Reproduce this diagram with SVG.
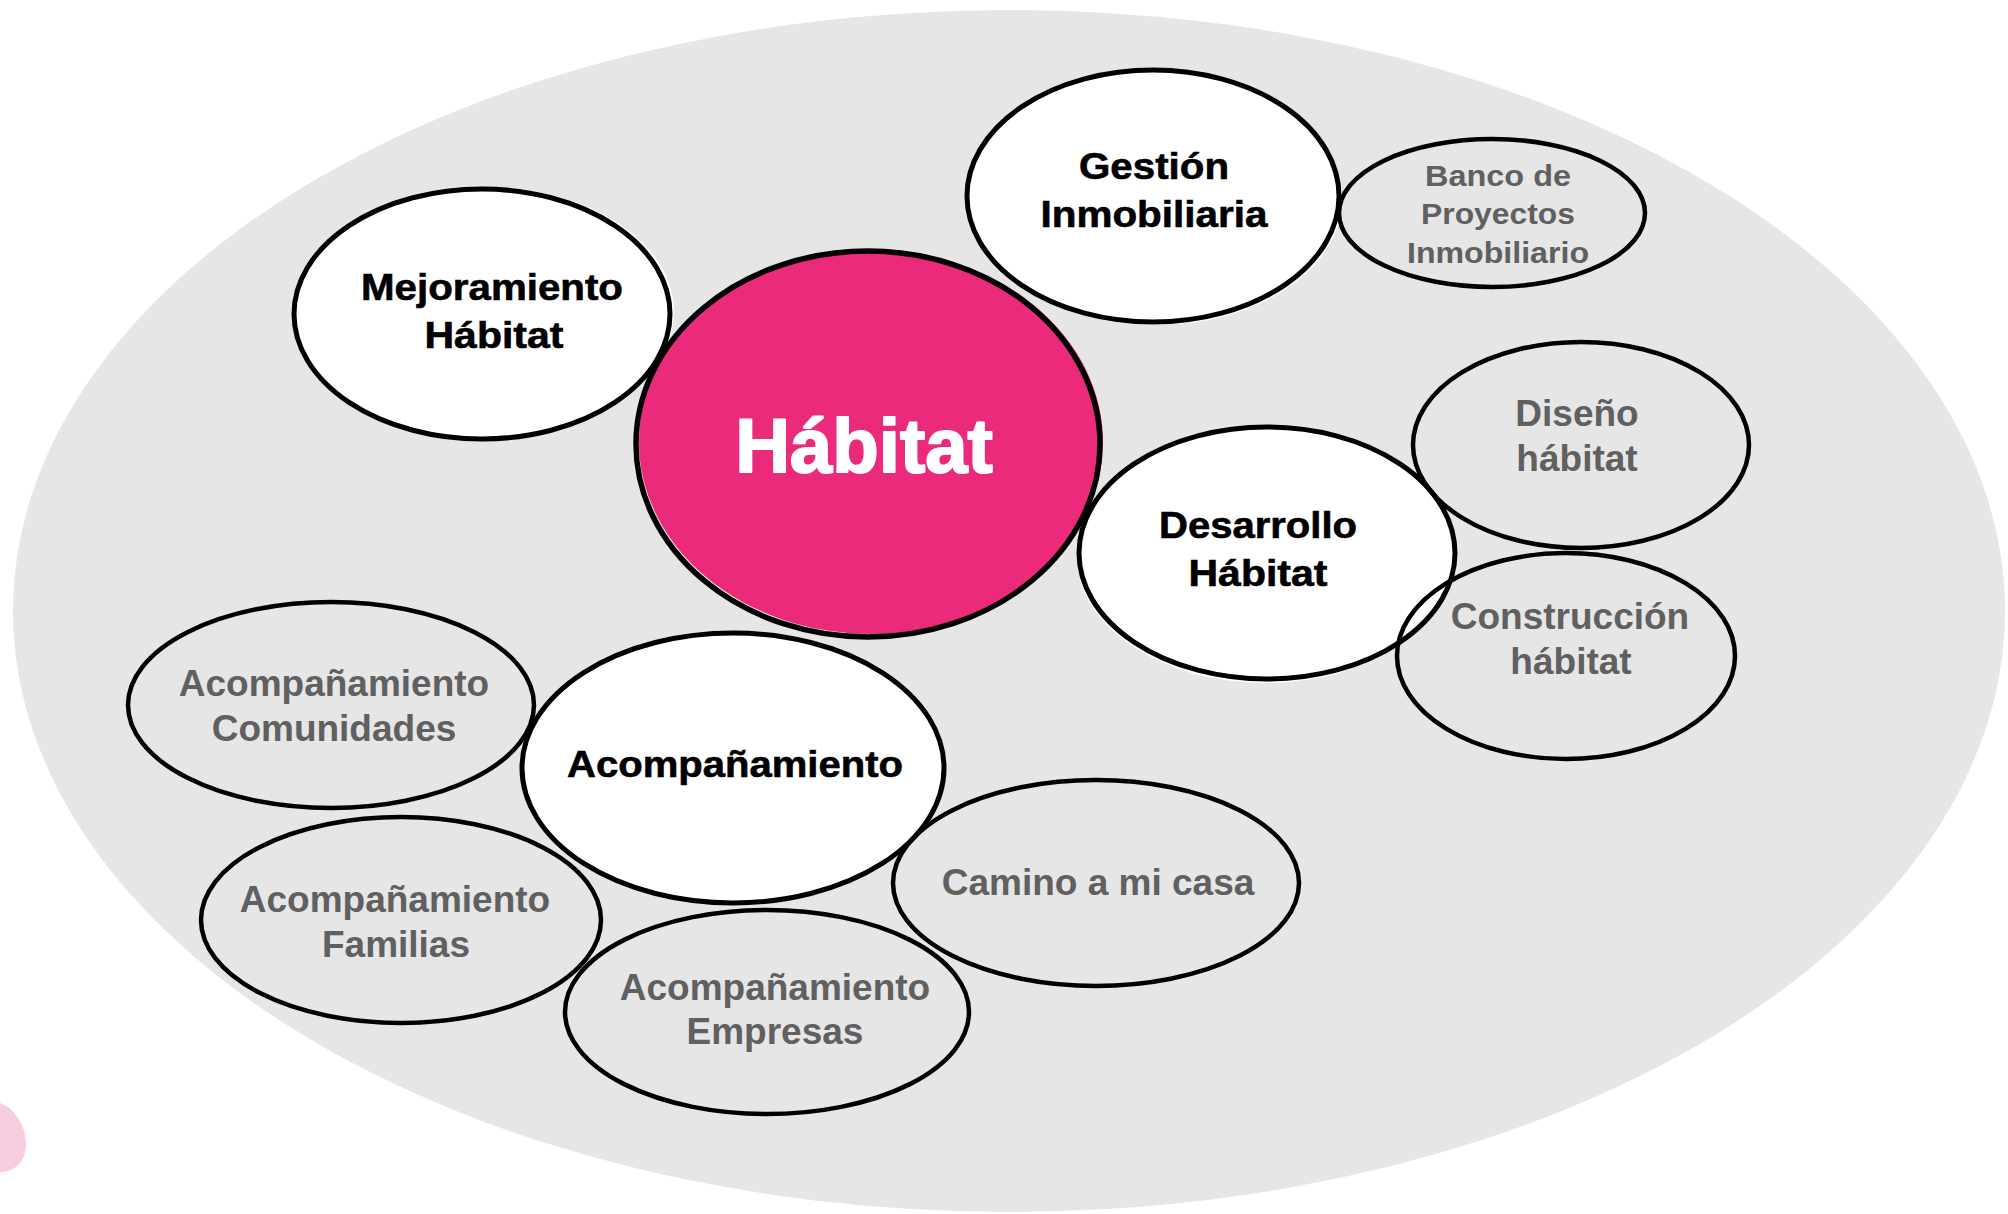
<svg xmlns="http://www.w3.org/2000/svg" width="2008" height="1214" viewBox="0 0 2008 1214">
<style>
.bg{fill:#e6e6e6}
.white{fill:#ffffff;stroke:#000;stroke-width:5}
.halo{fill:#ffffff}
.sub{fill:none;stroke:#000;stroke-width:4.5}
.main{fill:#ffffff;stroke:#ffffff;stroke-width:2;stroke-linejoin:round;font-family:"Liberation Sans",Arial,sans-serif;font-weight:bold;font-size:76px;text-anchor:middle}
.lbl{fill:#000;stroke:#000;stroke-width:0.6;font-family:"Liberation Sans",Arial,sans-serif;font-weight:bold;font-size:37px;text-anchor:middle}
.glbl{fill:#606060;font-family:"Liberation Sans",Arial,sans-serif;font-weight:bold;font-size:37px;text-anchor:middle}
.small{font-size:30px}
</style>
<rect width="2008" height="1214" fill="#ffffff"/>
<ellipse class="bg" cx="1009" cy="611" rx="996" ry="601"/>
<path d="M0,1103 C14,1108 26,1125 26,1145 C26,1162 14,1172 0,1172 Z" fill="#f8cde0"/>
<g id="connectors"></g>
<g id="mejoramiento">
<ellipse class="halo" cx="486" cy="312" rx="188" ry="125"/>
<ellipse class="white" cx="482" cy="314" rx="188" ry="125"/>
<text class="lbl" x="492" y="300" textLength="262" lengthAdjust="spacingAndGlyphs">Mejoramiento</text>
<text class="lbl" x="494" y="348" textLength="139" lengthAdjust="spacingAndGlyphs">Hábitat</text>
</g>
<g id="gestion">
<ellipse class="halo" cx="1156" cy="199" rx="186" ry="126"/>
<ellipse class="white" cx="1153" cy="196" rx="186" ry="126"/>
<text class="lbl" x="1154" y="179" textLength="150" lengthAdjust="spacingAndGlyphs">Gestión</text>
<text class="lbl" x="1154" y="227" textLength="227" lengthAdjust="spacingAndGlyphs">Inmobiliaria</text>
</g>
<g id="desarrollo">
<ellipse class="halo" cx="1265" cy="557" rx="188" ry="126"/>
<ellipse class="white" cx="1267" cy="553" rx="188" ry="126"/>
<text class="lbl" x="1258" y="538" textLength="198" lengthAdjust="spacingAndGlyphs">Desarrollo</text>
<text class="lbl" x="1258" y="586" textLength="139" lengthAdjust="spacingAndGlyphs">Hábitat</text>
</g>
<g id="acompanamiento">
<ellipse class="halo" cx="735" cy="766" rx="211" ry="135"/>
<ellipse class="white" cx="733" cy="768" rx="211" ry="135"/>
<text class="lbl" x="735" y="777" textLength="336" lengthAdjust="spacingAndGlyphs">Acompañamiento</text>
</g>
<g id="habitat">
<ellipse cx="871" cy="442" rx="232" ry="192" fill="#ec2a7b"/>
<ellipse cx="868" cy="444" rx="232" ry="193" fill="none" stroke="#000" stroke-width="5.5"/>
<text class="main" x="864" y="472">Hábitat</text>
</g>
<g id="banco">
<ellipse class="sub" cx="1492" cy="213" rx="153" ry="74"/>
<text class="glbl small" x="1498" y="186" textLength="146" lengthAdjust="spacingAndGlyphs">Banco de</text>
<text class="glbl small" x="1498" y="224" textLength="154" lengthAdjust="spacingAndGlyphs">Proyectos</text>
<text class="glbl small" x="1498" y="263" textLength="182" lengthAdjust="spacingAndGlyphs">Inmobiliario</text>
</g>
<g id="diseno">
<ellipse class="sub" cx="1581" cy="445" rx="168" ry="103"/>
<text class="glbl" x="1577" y="426">Diseño</text>
<text class="glbl" x="1577" y="471">hábitat</text>
</g>
<g id="construccion">
<ellipse class="sub" cx="1566" cy="656" rx="169" ry="103"/>
<text class="glbl" x="1570" y="629">Construcción</text>
<text class="glbl" x="1571" y="674">hábitat</text>
</g>
<g id="comunidades">
<ellipse class="sub" cx="331" cy="705" rx="203" ry="103"/>
<text class="glbl" x="334" y="696">Acompañamiento</text>
<text class="glbl" x="334" y="741">Comunidades</text>
</g>
<g id="familias">
<ellipse class="sub" cx="401" cy="920" rx="200" ry="103"/>
<text class="glbl" x="395" y="912">Acompañamiento</text>
<text class="glbl" x="396" y="957">Familias</text>
</g>
<g id="empresas">
<ellipse class="sub" cx="767" cy="1012" rx="202" ry="102"/>
<text class="glbl" x="775" y="1000">Acompañamiento</text>
<text class="glbl" x="775" y="1044">Empresas</text>
</g>
<g id="camino">
<ellipse class="sub" cx="1096" cy="883" rx="203" ry="103"/>
<text class="glbl" x="1098" y="895">Camino a mi casa</text>
</g>
</svg>
